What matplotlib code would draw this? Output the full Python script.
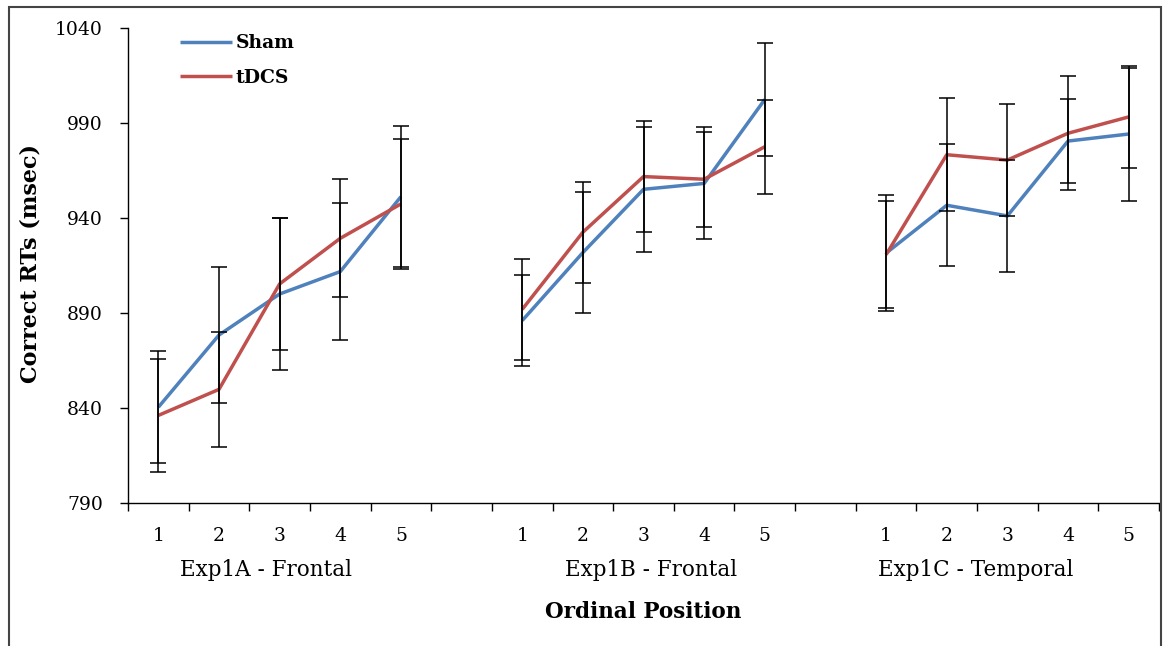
import matplotlib
matplotlib.use("Agg")
import matplotlib.pyplot as plt
import matplotlib.transforms as mtransforms
from matplotlib.patches import Rectangle

# values (msec)
groups = ["Exp1A - Frontal", "Exp1B - Frontal", "Exp1C - Temporal"]
positions = [1, 2, 3, 4, 5]
sham = [840.4, 878.4, 900.0, 911.8, 951.2,
        886.0, 921.8, 955.1, 958.2, 1002.4,
        921.5, 946.7, 941.1, 980.5, 984.2]
sham_err = [29.5, 36.0, 40.0, 36.0, 37.0,
            24.0, 32.0, 33.0, 29.5, 29.7,
            30.5, 32.0, 29.5, 22.0, 35.0]
tdcs = [836.1, 849.8, 905.3, 929.3, 947.4,
        891.9, 932.5, 961.8, 960.4, 977.5,
        920.7, 973.3, 970.5, 984.6, 993.2]
tdcs_err = [29.8, 30.2, 34.6, 31.0, 34.0,
            26.5, 26.5, 29.0, 25.0, 24.7,
            28.0, 29.7, 29.7, 30.0, 27.0]

blue = "#4F81BD"
red = "#C0504D"
plt.rcParams["font.family"] = "DejaVu Serif"

fig = plt.figure(figsize=(11.66, 6.46), dpi=100)
ax = fig.add_axes([128 / 1166, 1 - 503 / 646, 1031 / 1166, 475 / 646])

n = len(positions)
step = n + 1  # one empty slot between groups
for g in range(len(groups)):
    xs = [g * step + i for i in range(n)]
    s = slice(g * n, (g + 1) * n)
    ax.plot(xs, sham[s], color=blue, lw=2.5, zorder=2,
            label="Sham" if g == 0 else None, solid_capstyle="butt")
    ax.plot(xs, tdcs[s], color=red, lw=2.5, zorder=2,
            label="tDCS" if g == 0 else None, solid_capstyle="butt")
    ax.errorbar(xs, sham[s], yerr=sham_err[s], fmt="none", ecolor="black",
                elinewidth=1.1, capsize=5.5, capthick=1.1, zorder=3)
    ax.errorbar(xs, tdcs[s], yerr=tdcs_err[s], fmt="none", ecolor="black",
                elinewidth=1.1, capsize=5.5, capthick=1.1, zorder=3)

total = len(groups) * step - 1
ax.set_xlim(-0.5, total - 0.5)
ax.set_ylim(790, 1040)
ax.set_yticks(range(790, 1041, 50))

centers = [g * step + i for g in range(len(groups)) for i in range(n)]
ax.set_xticks(centers)
ax.set_xticklabels([str(p) for p in positions] * len(groups))
ax.set_xticks([k - 0.5 for k in range(total + 1)], minor=True)
ax.tick_params(axis="x", which="major", length=0, pad=17, labelsize=13.5)
ax.tick_params(axis="x", which="minor", length=6, width=1, direction="out")
ax.tick_params(axis="y", length=6, width=1, direction="out", pad=12,
               labelsize=13.5)

for side in ["top", "right"]:
    ax.spines[side].set_visible(False)
for side in ["left", "bottom"]:
    ax.spines[side].set_linewidth(1.0)

trans = mtransforms.blended_transform_factory(ax.transData, ax.transAxes)
label_x = [1.78, 8.12, 13.47]
for gx, name in zip(label_x, groups):
    ax.text(gx, -0.141, name, transform=trans, ha="center", va="center",
            fontsize=15.5)

ax.text(0.5, -0.229, "Ordinal Position", transform=ax.transAxes,
        ha="center", va="center", fontsize=15.5, fontweight="bold")
ax.text(-0.095, 0.505, "Correct RTs (msec)", transform=ax.transAxes,
        ha="center", va="center", rotation=90, fontsize=16,
        fontweight="bold")

leg = ax.legend(loc="upper left", bbox_to_anchor=(0.05, 0.987), frameon=False,
                borderaxespad=0, borderpad=0, handlelength=2.8,
                handletextpad=0.2, labelspacing=0.9,
                prop={"size": 13.5, "weight": "bold"})

fig.patches.append(Rectangle((9 / 1166, -0.05), 1152 / 1166, 1.05 - 7 / 646,
                             transform=fig.transFigure, fill=False,
                             edgecolor="#444444", lw=1.5))

fig.savefig("out.png", dpi=100)
plt.close(fig)
